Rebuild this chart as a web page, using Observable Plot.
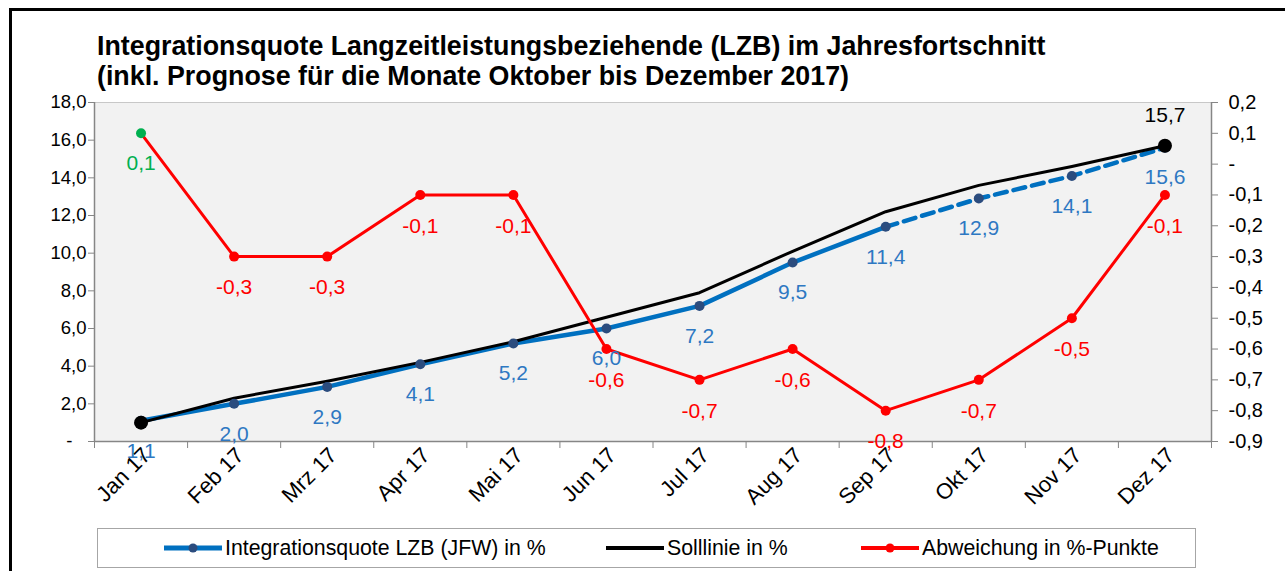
<!DOCTYPE html>
<html><head><meta charset="utf-8">
<script src="https://cdn.jsdelivr.net/npm/d3@7"></script>
<script src="https://cdn.jsdelivr.net/npm/@observablehq/plot@0.6"></script>
<style>
body{margin:0;background:#fff;font-family:"Liberation Sans",Arial,sans-serif;}
#wrap{position:relative;width:1285px;height:571px;overflow:hidden;background:#fff;}
#border{position:absolute;left:9px;top:8px;width:1300px;height:600px;border-left:3px solid #000;border-top:3px solid #000;}
#title{position:absolute;left:97px;top:31px;font-weight:bold;font-size:26.8px;line-height:30px;color:#000;white-space:nowrap;}
#chart{position:absolute;left:0;top:0;}
#legend{position:absolute;left:97px;top:528px;width:1097px;height:38px;border:1.5px solid #a6a6a6;background:#fff;}
.item{position:absolute;top:0;height:38px;display:flex;align-items:center;font-size:21.3px;color:#000;white-space:nowrap;}
.item svg{margin-right:3px;}
</style></head>
<body>
<div id="wrap">
  <div id="border"></div>
  <div id="title">Integrationsquote Langzeitleistungsbeziehende (LZB) im Jahresfortschnitt<br>(inkl. Prognose für die Monate Oktober bis Dezember 2017)</div>
  <div id="chart"></div>
  <div id="legend"></div>
</div>
<script>
const months = ["Jan 17","Feb 17","Mrz 17","Apr 17","Mai 17","Jun 17","Jul 17","Aug 17","Sep 17","Okt 17","Nov 17","Dez 17"];
const quote = [1.1, 2.0, 2.9, 4.1, 5.2, 6.0, 7.2, 9.5, 11.4, 12.9, 14.1, 15.6];
const soll = [1.0, 2.3, 3.2, 4.2, 5.3, 6.6, 7.9, 10.1, 12.2, 13.6, 14.6, 15.7];
const abweichung = [0.1, -0.3, -0.3, -0.1, -0.1, -0.6, -0.7, -0.6, -0.8, -0.7, -0.5, -0.1];
const leftTicks = [0, 2, 4, 6, 8, 10, 12, 14, 16, 18];
const rightTicks = [0.2, 0.1, 0, -0.1, -0.2, -0.3, -0.4, -0.5, -0.6, -0.7, -0.8, -0.9];
const seriesNames = ["Integrationsquote LZB (JFW) in %", "Solllinie in %", "Abweichung in %-Punkte"];

const rMin = -0.9, rMax = 0.2, lMax = 18;
const toL = v => (v - rMin) / (rMax - rMin) * lMax;
const fromL = d => Math.round((d / lMax * (rMax - rMin) + rMin) * 10) / 10;
const fmt = v => Math.abs(v) < 1e-9 ? "-" : v.toFixed(1).replace(".", ",");
const fmtLeft = v => Math.abs(v) < 1e-9 ? "-\u2007\u2009" : fmt(v);

const rows = months.map((m, i) => ({i, m, q: quote[i], s: soll[i], a: abweichung[i], aL: toL(abweichung[i])}));
const idx = months.map((_, i) => i);
const bounds = d3.range(-0.5, months.length, 1);

const W = 1285, H = 520;
const blue = "#0070C0", blueDot = "#2b4c7e", blueText = "#2e78c2", red = "#ff0000", green = "#00b050";
const labelSize = 21;

const chart = Plot.plot({
  width: W, height: H,
  marginLeft: 94, marginRight: W - 1211, marginTop: 102, marginBottom: H - 441,
  style: {fontFamily: "'Liberation Sans', Arial, sans-serif", background: "transparent", overflow: "visible"},
  x: {domain: [-0.5, months.length - 0.5], label: null},
  y: {domain: [0, lMax], label: null},
  marks: [
    Plot.frame({fill: "#f2f2f2", stroke: null}),
    Plot.ruleY([lMax], {stroke: "#c8c8c8", strokeWidth: 1}),
    Plot.ruleX([-0.5, months.length - 0.5], {stroke: "#868686", strokeWidth: 1.5}),
    Plot.ruleY([0], {stroke: "#868686", strokeWidth: 1.5}),
    Plot.axisY({ticks: leftTicks, tickFormat: fmtLeft, tickSize: 6, tickPadding: 2, fontSize: 18.5, stroke: "#868686", fill: "#000", label: null}),
    Plot.axisY({anchor: "right", ticks: rightTicks.map(toL), tickFormat: d => fmt(fromL(d)), tickSize: 6, tickPadding: 11, fontSize: 20, stroke: "#868686", fill: "#000", label: null}),
    Plot.axisX({ticks: bounds, tickFormat: () => "", tickSize: 7, stroke: "#868686", label: null}),
    Plot.axisX({ticks: idx, tickFormat: i => months[i], tickSize: 0, tickRotate: -45, tickPadding: 10, dx: 6, fontSize: 22, fill: "#000", label: null}),
    Plot.line(rows.slice(0, 9), {x: "i", y: "q", stroke: blue, strokeWidth: 4.5}),
    Plot.line(rows.slice(8), {x: "i", y: "q", stroke: blue, strokeWidth: 4.5, strokeDasharray: "12,7"}),
    Plot.line(rows, {x: "i", y: "s", stroke: "#000", strokeWidth: 3}),
    Plot.dot(rows, {x: "i", y: "q", r: 5, fill: blueDot}),
    Plot.dot([rows[0], rows[rows.length - 1]], {x: "i", y: "s", r: 7, fill: "#000"}),
    Plot.line(rows, {x: "i", y: "aL", stroke: red, strokeWidth: 3}),
    Plot.dot(rows.filter(d => d.a <= 0), {x: "i", y: "aL", r: 5, fill: red}),
    Plot.dot(rows.filter(d => d.a > 0), {x: "i", y: "aL", r: 5, fill: green}),
    Plot.text(rows, {x: "i", y: "q", text: d => fmt(d.q), dy: 30, fill: blueText, fontSize: labelSize}),
    Plot.text(rows.filter(d => d.a <= 0), {x: "i", y: "aL", text: d => fmt(d.a), dy: 31, fill: red, fontSize: labelSize}),
    Plot.text(rows.filter(d => d.a > 0), {x: "i", y: "aL", text: d => fmt(d.a), dy: 30, fill: green, fontSize: labelSize}),
    Plot.text([rows[rows.length - 1]], {x: "i", y: "s", text: d => fmt(d.s), dy: -31, fill: "#000", fontSize: labelSize})
  ]
});
document.getElementById("chart").appendChild(chart);

// legend
const legend = document.getElementById("legend");
const legendItems = [
  {name: seriesNames[0], color: blue, w: 5, dot: blueDot, left: 66},
  {name: seriesNames[1], color: "#000", w: 4, dot: null, left: 508},
  {name: seriesNames[2], color: red, w: 4, dot: red, left: 763}
];
for (const it of legendItems) {
  const div = document.createElement("div");
  div.className = "item";
  div.style.left = it.left + "px";
  const svg = d3.create("svg").attr("width", 58).attr("height", 20);
  svg.append("line").attr("x1", 0).attr("x2", 58).attr("y1", 10).attr("y2", 10)
    .attr("stroke", it.color).attr("stroke-width", it.w).attr("stroke-linecap", "round");
  if (it.dot) svg.append("circle").attr("cx", 29).attr("cy", 10).attr("r", 4.5).attr("fill", it.dot);
  div.appendChild(svg.node());
  const span = document.createElement("span");
  span.textContent = it.name;
  div.appendChild(span);
  legend.appendChild(div);
}
</script>
</body></html>
